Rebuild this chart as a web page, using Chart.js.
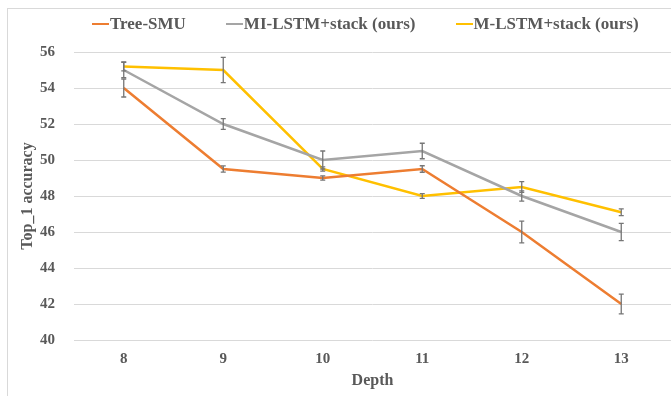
<!DOCTYPE html>
<html>
<head>
<meta charset="utf-8">
<script src="https://cdn.jsdelivr.net/npm/chart.js@4.4.0/dist/chart.umd.min.js"></script>
<style>
  html, body { margin: 0; padding: 0; background: #fff; overflow: hidden; }
  #frame { position: absolute; left: 7px; top: 8px; width: 700px; height: 420px; border: 1px solid #d9d9d9; }
  #wrap { position: absolute; left: 0; top: 0; width: 671px; height: 396px; }
  #legenda { position: absolute; left: 92px; top: 14px; height: 20px; display: flex; align-items: center;
             font: bold 17px 'Liberation Serif', 'Times New Roman', serif; color: #595959; white-space: nowrap; }
  #legenda .item { display: flex; align-items: center; margin-right: 40px; line-height: 20px; }
  #legenda .marca { display: inline-block; width: 17px; height: 2.5px; margin-right: 1px; }
</style>
</head>
<body>
<div id="frame"></div>
<div id="wrap"><canvas id="grafico"></canvas></div>
<div id="legenda"></div>
<script>
// Dados
const profundidades = ['8', '9', '10', '11', '12', '13'];
const yTicks = [40, 42, 44, 46, 48, 50, 52, 54, 56];

const treeSmu = [54, 49.5, 49, 49.5, 46, 42];
const treeSmuErr = [0.5, 0.17, 0.12, 0.18, 0.6, 0.55];

const miLstm = [55, 52, 50, 50.5, 48, 46];
const miLstmErr = [0.42, 0.3, 0.5, 0.43, 0.28, 0.48];

const mLstm = [55.2, 55, 49.5, 48, 48.5, 47.1];
const mLstmErr = [0.25, 0.7, 0.12, 0.13, 0.3, 0.19];

const fonte = "'Liberation Serif', 'Times New Roman', serif";
const cinzaTexto = '#595959';

// Barras de erro desenhadas com as escalas do gráfico
const barrasErro = {
    id: 'barrasErro',
    afterDatasetsDraw(chart) {
        const ctx = chart.ctx;
        const yScale = chart.scales.y;
        ctx.save();
        ctx.strokeStyle = '#767676';
        ctx.lineWidth = 1.3;
        chart.data.datasets.forEach((ds, i) => {
            const meta = chart.getDatasetMeta(i);
            meta.data.forEach((pt, j) => {
                const v = ds.data[j];
                const e = ds.erros[j];
                const yTop = yScale.getPixelForValue(v + e);
                const yBot = yScale.getPixelForValue(v - e);
                const x = pt.x;
                ctx.beginPath();
                ctx.moveTo(x, yTop);
                ctx.lineTo(x, yBot);
                ctx.moveTo(x - 2.5, yTop);
                ctx.lineTo(x + 2.5, yTop);
                ctx.moveTo(x - 2.5, yBot);
                ctx.lineTo(x + 2.5, yBot);
                ctx.stroke();
            });
        });
        ctx.restore();
    }
};

// Legenda em HTML (texto real), montada a partir dos datasets
function criarLegenda(chart) {
    const box = document.getElementById('legenda');
    chart.data.datasets.forEach(ds => {
        const item = document.createElement('span');
        item.className = 'item';
        const marca = document.createElement('span');
        marca.className = 'marca';
        marca.style.background = ds.borderColor;
        const texto = document.createElement('span');
        texto.textContent = ds.label;
        item.appendChild(marca);
        item.appendChild(texto);
        box.appendChild(item);
    });
}

function criarGrafico() {
    const ctx = document.getElementById('grafico').getContext('2d');

    const chart = new Chart(ctx, {
        type: 'line',
        data: {
            labels: profundidades,
            datasets: [{
                label: 'Tree-SMU',
                data: treeSmu,
                erros: treeSmuErr,
                borderColor: '#ED7D31',
                backgroundColor: '#ED7D31',
            }, {
                label: 'MI-LSTM+stack (ours)',
                data: miLstm,
                erros: miLstmErr,
                borderColor: '#A5A5A5',
                backgroundColor: '#A5A5A5',
            }, {
                label: 'M-LSTM+stack (ours)',
                data: mLstm,
                erros: mLstmErr,
                borderColor: '#FFC000',
                backgroundColor: '#FFC000',
            }],
        },
        options: {
            responsive: true,
            maintainAspectRatio: false,
            animation: false,
            layout: {
                padding: { left: 8, top: 52, right: 0, bottom: 0 }
            },
            elements: {
                line: { borderWidth: 2.5, tension: 0 },
                point: { radius: 0, hoverRadius: 0 },
            },
            plugins: {
                legend: { display: false },
                tooltip: { enabled: false },
            },
            scales: {
                x: {
                    offset: true,
                    grid: { display: false, drawTicks: false },
                    border: { display: false },
                    afterFit: axis => { axis.height = 56; },
                    ticks: {
                        color: cinzaTexto,
                        padding: 10,
                        font: { family: fonte, size: 15, weight: 'bold' },
                    },
                    title: {
                        display: true,
                        text: 'Depth',
                        color: cinzaTexto,
                        padding: { top: 1, bottom: 6 },
                        font: { family: fonte, size: 16, weight: 'bold' },
                    },
                },
                y: {
                    min: 40,
                    max: 56,
                    afterBuildTicks: axis => {
                        axis.ticks = yTicks.map(v => ({ value: v }));
                    },
                    afterFit: axis => { axis.width = 66; },
                    grid: { color: '#d9d9d9', lineWidth: 1, drawTicks: false },
                    border: { display: false },
                    ticks: {
                        color: cinzaTexto,
                        padding: 19,
                        font: { family: fonte, size: 15, weight: 'bold' },
                    },
                    title: {
                        display: true,
                        text: 'Top_1 accuracy',
                        color: cinzaTexto,
                        padding: { top: 10, bottom: 0 },
                        font: { family: fonte, size: 16, weight: 'bold' },
                    },
                },
            },
        },
        plugins: [barrasErro],
    });

    criarLegenda(chart);
}

criarGrafico();
</script>
</body>
</html>
